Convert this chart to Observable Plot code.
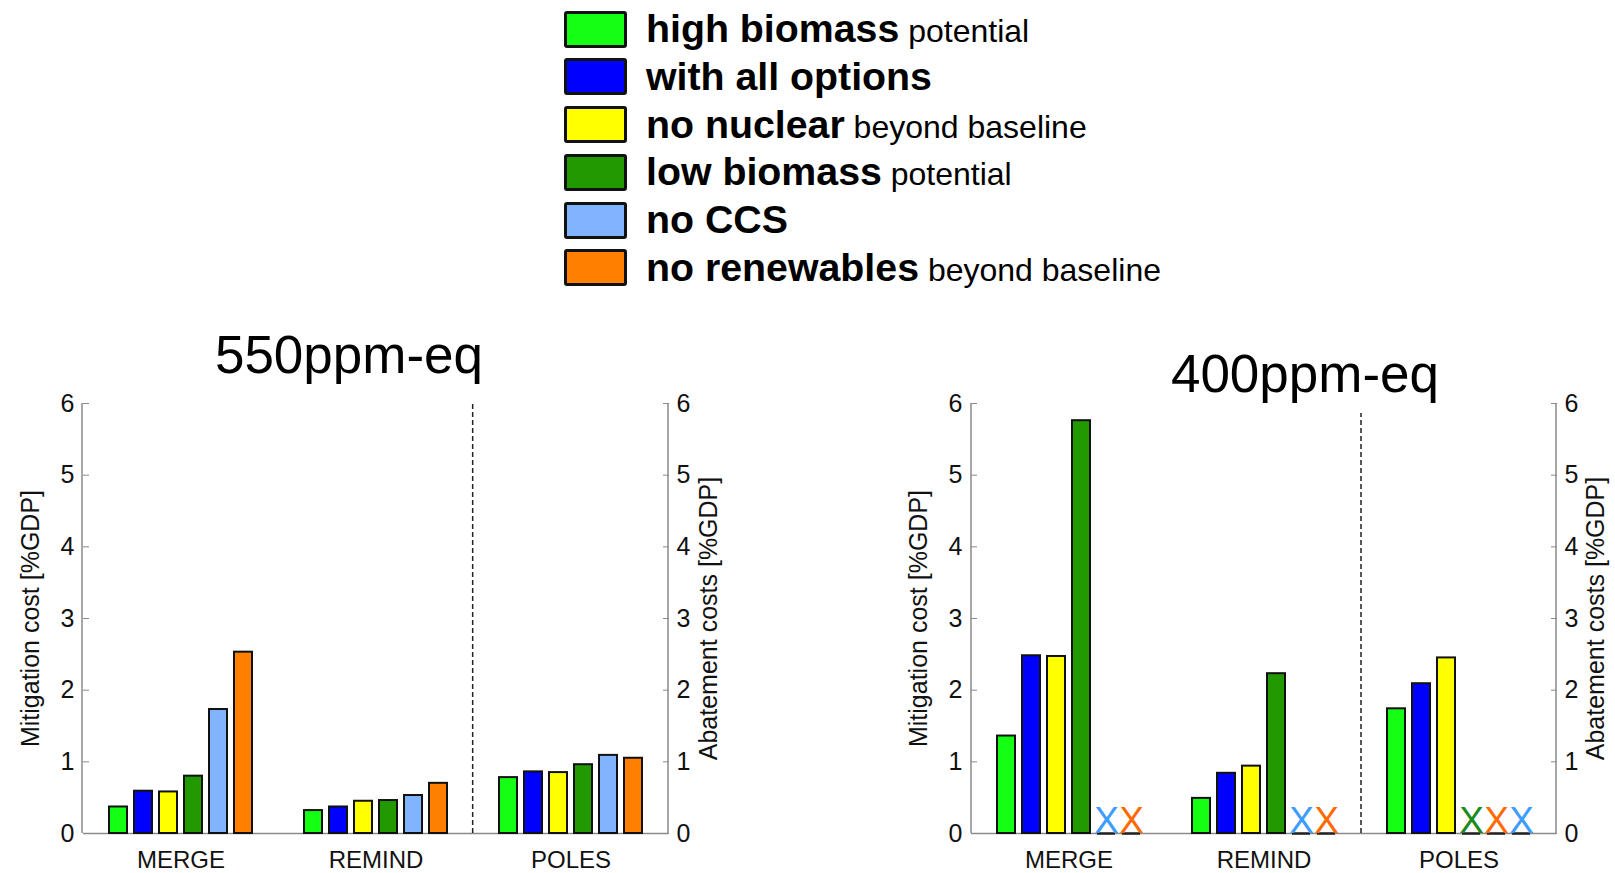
<!DOCTYPE html>
<html><head><meta charset="utf-8">
<script src="https://cdn.jsdelivr.net/npm/d3@7"></script>
<script src="https://cdn.jsdelivr.net/npm/@observablehq/plot@0.6"></script>
<style>
html,body{margin:0;padding:0;background:#fff;}
body{width:1615px;height:873px;position:relative;overflow:hidden;font-family:"Liberation Sans",Arial,Helvetica,sans-serif;color:#000;}
.legend-row{position:absolute;left:564px;height:37px;width:720px;}
.sw{position:absolute;left:0;top:0;width:63px;height:37px;box-sizing:border-box;border:3px solid #111;border-radius:3px;}
.lt{position:absolute;left:82px;top:-0.5px;white-space:nowrap;line-height:37px;height:37px;}
.lt b{font-size:39.3px;font-weight:bold;}
.lt span{font-size:32px;}
.title{position:absolute;width:400px;text-align:center;font-size:53px;line-height:60px;}
.panel{position:absolute;top:380px;}
</style></head><body>
<div id="legend"></div>
<div id="titles"></div>
<div id="p1" class="panel" style="left:0px"></div>
<div id="p2" class="panel" style="left:890px"></div>
<script>
// ---------- data ----------
const models = ["MERGE", "REMIND", "POLES"];
const seriesNames = ["high biomass", "with all options", "no nuclear", "low biomass", "no CCS", "no renewables"];
const legendBold = ["high biomass", "with all options", "no nuclear", "low biomass", "no CCS", "no renewables"];
const legendRest = ["potential", "", "beyond baseline", "potential", "", "beyond baseline"];
const seriesColors = ["#14ff14", "#0000ff", "#ffff00", "#229900", "#80b4ff", "#ff7f00"];
const markerColors = ["#14ff14", "#0000ff", "#ffff00", "#1a8a1a", "#3d9cff", "#ff6a00"];
const panelTitles = ["550ppm-eq", "400ppm-eq"];
const yTicks = [0, 1, 2, 3, 4, 5, 6];
const leftAxisLabel = "Mitigation cost [%GDP]";
const rightAxisLabel = "Abatement costs [%GDP]";

// 550 ppm-eq, costs per model, in series order
const cost550MERGE  = [0.37, 0.59, 0.58, 0.80, 1.73, 2.53];
const cost550REMIND = [0.32, 0.37, 0.45, 0.46, 0.53, 0.70];
const cost550POLES  = [0.78, 0.86, 0.85, 0.96, 1.09, 1.05];
// 400 ppm-eq (null = infeasible, shown as X)
const cost400MERGE  = [1.36, 2.48, 2.47, 5.76, null, null];
const cost400REMIND = [0.49, 0.84, 0.94, 2.23, null, null];
const cost400POLES  = [1.74, 2.09, 2.45, null, null, null];
// infeasible markers of the 400 ppm-eq panel: model, slot (series index), colour (series index)
const infeasibleModel  = ["MERGE", "MERGE", "REMIND", "REMIND", "POLES", "POLES", "POLES"];
const infeasibleSlot   = [4, 5, 4, 5, 3, 4, 5];
const infeasibleColour = [4, 5, 4, 5, 3, 5, 4];
// dashed divider: drawn before this model, up to this value
const dividerBefore = "POLES";
const dividerTop = [6, 5.86];

const FONT = '"Liberation Sans", Arial, Helvetica, sans-serif';

// ---------- legend ----------
const legend = document.getElementById("legend");
seriesNames.forEach((s, i) => {
  const row = document.createElement("div");
  row.className = "legend-row";
  row.style.top = (10.7 + i * 47.7) + "px";
  const sw = document.createElement("div");
  sw.className = "sw";
  sw.style.background = seriesColors[i];
  const lt = document.createElement("div");
  lt.className = "lt";
  const b = document.createElement("b");
  b.textContent = legendBold[i];
  lt.appendChild(b);
  if (legendRest[i]) {
    const sp = document.createElement("span");
    sp.textContent = " " + legendRest[i];
    lt.appendChild(sp);
  }
  row.appendChild(sw);
  row.appendChild(lt);
  legend.appendChild(row);
});

// ---------- titles ----------
const titlePos = [{left: 149, top: 324.5}, {left: 1105, top: 343.5}];
panelTitles.forEach((t, i) => {
  const d = document.createElement("div");
  d.className = "title";
  d.style.left = titlePos[i].left + "px";
  d.style.top = titlePos[i].top + "px";
  d.textContent = t;
  document.getElementById("titles").appendChild(d);
});

// ---------- panels ----------
function toRows(lists) {
  return models.flatMap((m, mi) => lists[mi].map((v, si) => ({model: m, series: seriesNames[si], value: v, fill: seriesColors[si]})))
    .filter(d => d.value != null);
}
const rows550 = toRows([cost550MERGE, cost550REMIND, cost550POLES]);
const rows400 = toRows([cost400MERGE, cost400REMIND, cost400POLES]);
const markers400 = infeasibleModel.map((m, i) => ({model: m, slot: seriesNames[infeasibleSlot[i]], fill: markerColors[infeasibleColour[i]]}));
const intFmt = d3.format("d");

function panel(el, rows, markers, o, idx) {
  const chart = Plot.plot({
    width: o.width, height: 493,
    marginLeft: o.ml, marginRight: o.mr, marginTop: 23, marginBottom: 40,
    style: {fontFamily: FONT, fontSize: "24px", background: "transparent", overflow: "visible", color: "#111"},
    fx: {domain: models, padding: 0, label: null},
    x: {domain: seriesNames, paddingInner: 0.27, paddingOuter: 0.89, axis: null},
    y: {domain: [0, 6]},
    color: {type: "identity"},
    marks: [
      Plot.ruleY([0], {stroke: "#8a8a8a", strokeWidth: 1.5}),
      Plot.barY(rows, {fx: "model", x: "series", y: "value", fill: "fill", stroke: "#111", strokeWidth: 2}),
      Plot.tickY(markers, {fx: "model", x: "slot", y: 0, stroke: "#222", strokeWidth: 2.5}),
      Plot.text(markers, {fx: "model", x: "slot", y: 0, text: () => "X", fill: "fill", fontSize: 37, lineAnchor: "bottom", dy: -1}),
      Plot.axisY({anchor: "left", ticks: yTicks, tickFormat: intFmt, tickSize: -6, tickPadding: 15, stroke: "#8a8a8a", fill: "#111",
        fontSize: 25, label: leftAxisLabel, labelAnchor: "center", labelOffset: 62, labelArrow: "none"}),
      Plot.axisY({anchor: "right", ticks: yTicks, tickFormat: intFmt, tickSize: -6, tickPadding: 14, stroke: "#8a8a8a", fill: "#111",
        fontSize: 25, label: rightAxisLabel, labelAnchor: "center", labelOffset: o.rlo, labelArrow: "none"}),
      Plot.axisFx({anchor: "bottom", tickSize: 0, tickPadding: 17, label: null, fill: "#111"})
    ]
  });
  // axis lines and divider through the plot's own scales
  const fxs = chart.scale("fx"), ys = chart.scale("y");
  const fxBand = d3.scaleBand().domain(fxs.domain).range(fxs.range).padding(0);
  const yLin = d3.scaleLinear().domain(ys.domain).range(ys.range);
  const svg = d3.select(chart);
  const [r0, r1] = fxs.range;
  svg.append("line").attr("x1", r0).attr("x2", r0).attr("y1", yLin(0)).attr("y2", yLin(6))
    .attr("stroke", "#8a8a8a").attr("stroke-width", 1.5);
  svg.append("line").attr("x1", r1).attr("x2", r1).attr("y1", yLin(0)).attr("y2", yLin(6))
    .attr("stroke", "#8a8a8a").attr("stroke-width", 1.5);
  const xd = fxBand(dividerBefore);
  svg.append("line").attr("x1", xd).attr("x2", xd).attr("y1", yLin(0)).attr("y2", yLin(dividerTop[idx]))
    .attr("stroke", "#222").attr("stroke-width", 1.5).attr("stroke-dasharray", "5,3");
  el.appendChild(chart);
}

panel(document.getElementById("p1"), rows550, [], {width: 740, ml: 82, mr: 72, rlo: 48}, 0);
panel(document.getElementById("p2"), rows400, markers400, {width: 725, ml: 81, mr: 59, rlo: 47}, 1);
</script>
</body></html>
